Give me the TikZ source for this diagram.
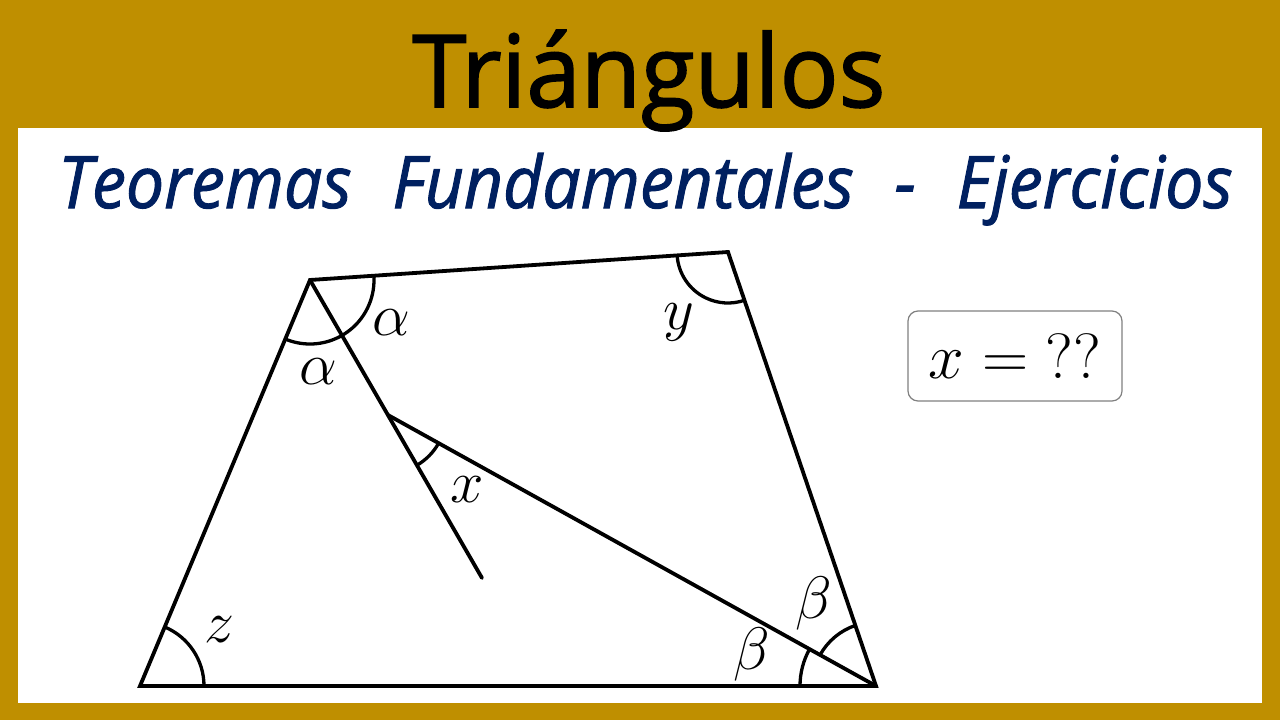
\RequirePackage{fix-cm}
\documentclass[tikz,border=0pt]{standalone}
\usepackage{fontspec}
\newfontfamily\titlefont[FakeBold=1.6]{Open Sans}
\newfontfamily\subfont[FakeBold=1.4]{Open Sans Italic}
\usetikzlibrary{angles,calc}
\definecolor{gold}{HTML}{BF8F00}
\definecolor{navy}{HTML}{002060}
\tikzset{
  edge/.style={line width=3.8pt, line join=miter, line cap=round},
  arcmark/.style={draw, line width=3.3pt},
  lbl/.style={inner sep=0pt, font=\fontsize{60}{64}\selectfont},
}
\begin{document}
\begin{tikzpicture}[x=1pt,y=-1pt]
\useasboundingbox (0,0) rectangle (1280,720);
\fill[gold] (0,0) rectangle (1280,720);
\fill[white] (18,128) rectangle (1262,703);
\node[anchor=base west, inner sep=0pt] (title) at (412,107) {\resizebox{473pt}{77pt}{\titlefont Triángulos}};
\node[anchor=base west, inner sep=0pt, text=navy] (subtitle) at (58,208) {\resizebox{1174pt}{55pt}{\subfont Teoremas\hspace{0.6em}Fundamentales\hspace{0.6em}-\hspace{0.6em}Ejercicios}};
\coordinate (A) at (310,280);
\coordinate (B) at (728,252);
\coordinate (C) at (876,686);
\coordinate (D) at (140,686);
\coordinate (E) at (482,578);
\coordinate (P) at ($(A)!0.453!(E)$);
\pic[arcmark, angle radius=64pt] {angle=D--A--B};
\pic[arcmark, angle radius=51pt] {angle=A--B--C};
\pic[arcmark, angle radius=64pt] {angle=B--C--P};
\pic[arcmark, angle radius=76pt] {angle=P--C--D};
\pic[arcmark, angle radius=64pt] {angle=C--D--A};
\pic[arcmark, angle radius=58pt] {angle=E--P--C};
\draw[edge] (A) -- (B) -- (C) -- (D) -- cycle;
\draw[edge] (A) -- (E);
\draw[edge] (P) -- (C);
\node[lbl] (la1) at (391,323) {$\alpha$};
\node[lbl] (la2) at (318,372) {$\alpha$};
\node[lbl] (ly) at (679,322) {$y$};
\node[lbl] (lx) at (467,490) {$x$};
\node[lbl] (lb1) at (752,654) {$\beta$};
\node[lbl] (lb2) at (814,603) {$\beta$};
\node[lbl] (lz) at (219,630) {$z$};
\node[draw=gray, line width=1.2pt, rounded corners=10pt, minimum width=214pt, minimum height=90pt, inner sep=0pt, font=\fontsize{64}{68}\selectfont] (box) at (1015,356) {$x = \mathord{??}$};
\end{tikzpicture}
\end{document}
